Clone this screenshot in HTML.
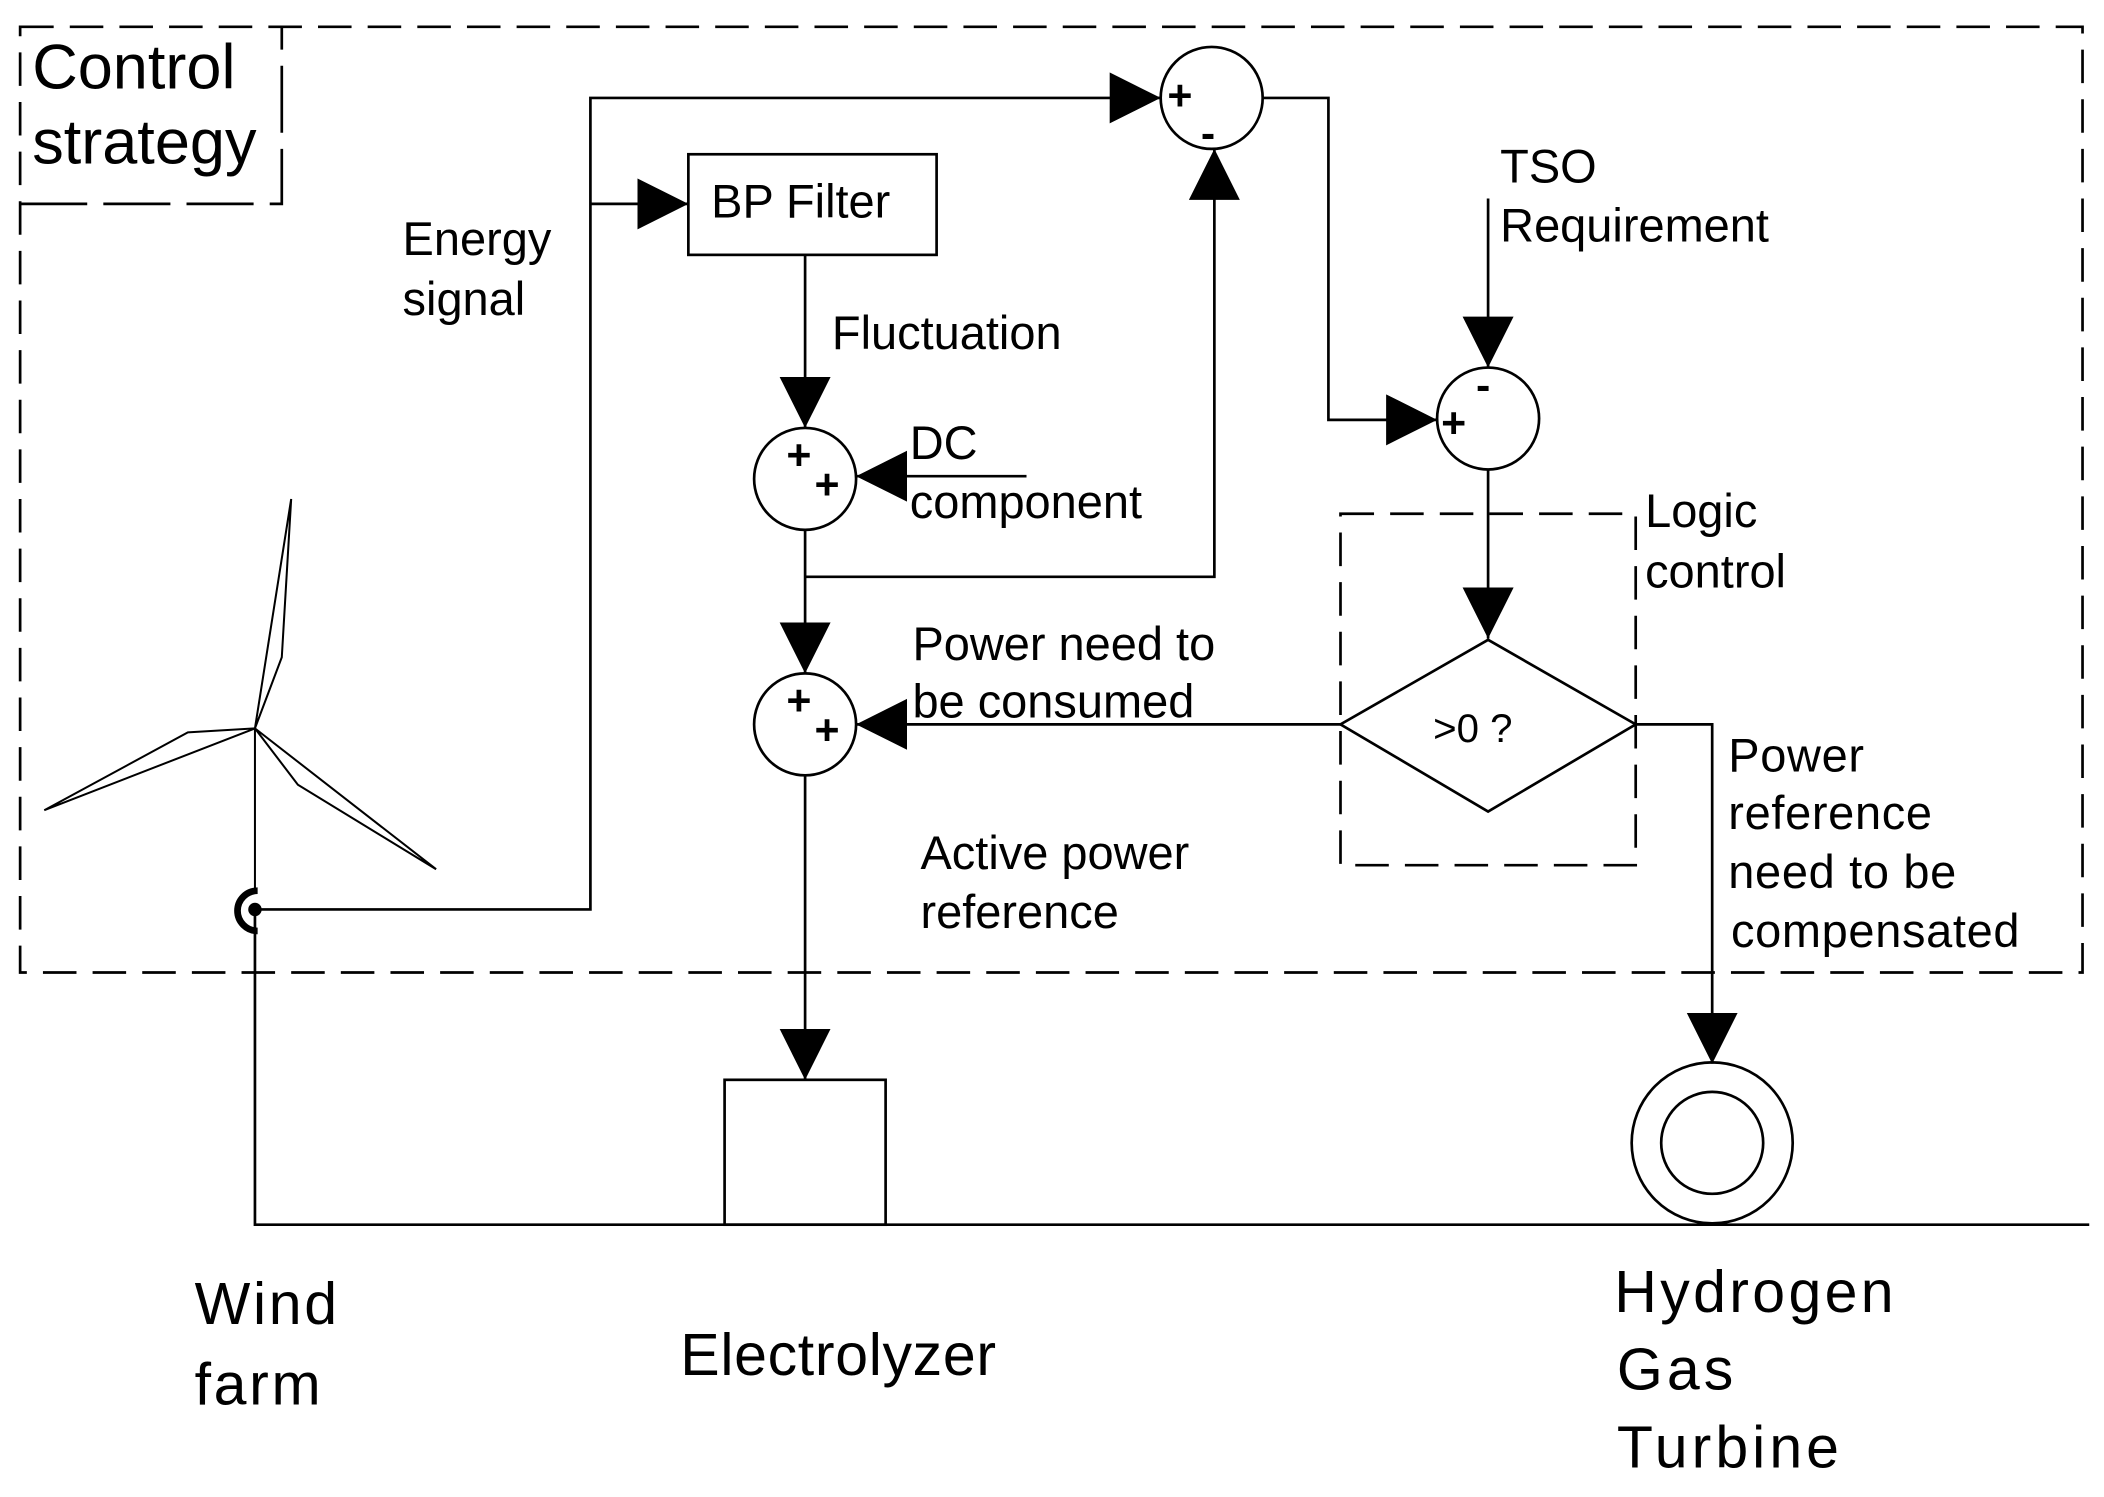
<!DOCTYPE html>
<html><head><style>html,body{margin:0;padding:0;background:#fff}svg{display:block}</style></head>
<body>
<svg width="2104" height="1497" viewBox="0 0 1568 1116" preserveAspectRatio="none" xmlns="http://www.w3.org/2000/svg" font-family="Liberation Sans, sans-serif">
<defs><marker id="a" markerWidth="40" markerHeight="40" refX="38" refY="19" orient="auto" markerUnits="userSpaceOnUse"><path d="M0,0 L38,19 L0,38 Z" fill="#000"/></marker></defs>
<g fill="none" stroke="#000" stroke-width="2">
<rect x="15" y="20" width="1537" height="705" stroke-dasharray="25,12"/>
<path d="M15,152 H210 V20" stroke-dasharray="50,12"/>
<rect x="999" y="383" width="220" height="262" stroke-dasharray="25,12"/>
<path d="M190,678 H440 V73 H865" marker-end="url(#a)"/>
<path d="M440,152 H513" marker-end="url(#a)"/>
<rect x="513" y="115" width="185" height="75"/>
<path d="M600,190 V319" marker-end="url(#a)"/>
<path d="M765,355 H638" marker-end="url(#a)"/>
<path d="M600,395 V502" marker-end="url(#a)"/>
<path d="M600,430 H905 V111" marker-end="url(#a)"/>
<path d="M941,73 H990 V313 H1071" marker-end="url(#a)"/>
<path d="M1109,148 V274" marker-end="url(#a)"/>
<path d="M1109,350 V476" marker-end="url(#a)"/>
<path d="M1109,477 L1219,540 L1109,605 L999,540 Z"/>
<path d="M999,540 H638" marker-end="url(#a)"/>
<path d="M1219,540 H1276 V793" marker-end="url(#a)"/>
<path d="M600,578 V805" marker-end="url(#a)"/>
<rect x="540" y="805" width="120" height="108"/>
<circle cx="1276" cy="852" r="60"/><circle cx="1276" cy="852" r="38"/>
<path d="M190,678 V913 H1557"/>
<circle cx="903" cy="73" r="38"/><circle cx="600" cy="357" r="38"/><circle cx="600" cy="540" r="38"/><circle cx="1109" cy="312" r="38"/>
<path d="M190,543 L217,372 L210,490 Z" stroke-width="1.5"/>
<path d="M190,543 L33,604 L140,546 Z" stroke-width="1.5"/>
<path d="M190,543 L325,648 L222,585 Z" stroke-width="1.5"/>
<path d="M190,543 V665" stroke-width="1.5"/>
<path d="M192,664 A14,14 0 1 0 192,694" stroke-width="5"/>
</g>
<circle cx="190" cy="678" r="5" fill="#000"/>
<g font-size="35" fill="#000">
<text x="24" y="66" font-size="47">Control</text><text x="24" y="122" font-size="47">strategy</text>
<text x="300" y="190">Energy</text><text x="300" y="235">signal</text>
<text x="530" y="162">BP Filter</text>
<text x="620" y="260">Fluctuation</text>
<text x="678" y="342">DC</text><text x="678" y="386">component</text>
<text x="1118" y="136">TSO</text><text x="1118" y="180">Requirement</text>
<text x="1226" y="393">Logic</text><text x="1226" y="438">control</text>
<text x="1068" y="553" font-size="30">&gt;0 ?</text>
<text x="680" y="492">Power need to</text><text x="680" y="535">be consumed</text>
<text x="686" y="648">Active power</text><text x="686" y="692">reference</text>
<text x="1288" y="575" letter-spacing="0.5">Power</text><text x="1288" y="618" letter-spacing="0.5">reference</text><text x="1288" y="662" letter-spacing="0.5">need to be</text><text x="1290" y="706" letter-spacing="0.5">compensated</text>
<text x="145" y="987" font-size="44" letter-spacing="2">Wind</text><text x="145" y="1047" font-size="44" letter-spacing="2">farm</text>
<text x="507" y="1025" font-size="44" letter-spacing="0.5">Electrolyzer</text>
<text x="1203" y="978" font-size="44" letter-spacing="2.5">Hydrogen</text><text x="1205" y="1036" font-size="44" letter-spacing="3">Gas</text><text x="1205" y="1094" font-size="44" letter-spacing="3">Turbine</text>
<g font-size="32" font-weight="bold">
<text x="870" y="82">+</text><text x="895" y="110">-</text>
<text x="586" y="350">+</text><text x="607" y="372">+</text>
<text x="586" y="533">+</text><text x="607" y="555">+</text>
<text x="1074" y="326">+</text><text x="1100" y="298">-</text>
</g>
</g>
</svg>
</body></html>
